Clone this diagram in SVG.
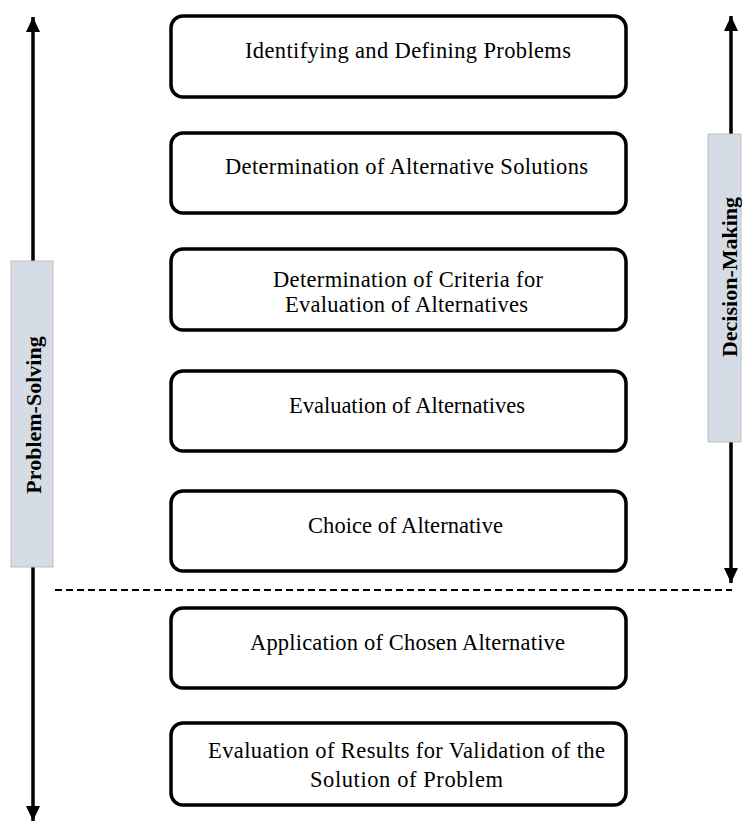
<svg xmlns="http://www.w3.org/2000/svg" width="742" height="822" viewBox="0 0 742 822">
<style>
.box{fill:#fff;stroke:#000;stroke-width:3.5}
.side{fill:#d6dce5;stroke:#bfbfbf;stroke-width:1}
.t{font-family:"Liberation Serif","Times New Roman",serif;font-size:22.5px;fill:#000;text-anchor:middle}
.v{font-family:"Liberation Serif","Times New Roman",serif;font-size:22px;font-weight:bold;fill:#000;text-anchor:middle}
.ln{stroke:#000;stroke-width:3.5;fill:none}
.dash{stroke:#000;stroke-width:2;stroke-dasharray:7 4;fill:none}
</style>
<defs>
<marker id="ah" markerUnits="userSpaceOnUse" markerWidth="16" markerHeight="15" refX="15" refY="7" orient="auto-start-reverse" viewBox="0 0 16 14">
<path d="M0,0 L15,7 L0,14 z" fill="#000"/>
</marker>
</defs>
<rect width="742" height="822" fill="#fff"/>
<g id="connectors">
<line class="ln" x1="33" y1="17" x2="33" y2="821" marker-start="url(#ah)" marker-end="url(#ah)"/>
<line class="ln" x1="731" y1="16" x2="731" y2="583" marker-start="url(#ah)" marker-end="url(#ah)"/>
<line class="dash" x1="55" y1="590" x2="732" y2="590"/>
</g>
<g id="problem-solving">
<rect class="side" x="11" y="261" width="42" height="306"/>
<text class="v" transform="translate(41,415) rotate(-90)">Problem-Solving</text>
</g>
<g id="decision-making">
<rect class="side" x="708" y="134" width="33" height="308"/>
<text class="v" transform="translate(736.5,277) rotate(-90)">Decision-Making</text>
</g>
<g id="n1">
<rect class="box" x="171" y="16" width="455" height="81" rx="12"/>
<text class="t" x="408" y="58" textLength="326" lengthAdjust="spacing">Identifying and Defining Problems</text>
</g>
<g id="n2">
<rect class="box" x="171" y="133" width="455" height="80" rx="12"/>
<text class="t" x="406.5" y="174" textLength="363" lengthAdjust="spacing">Determination of Alternative Solutions</text>
</g>
<g id="n3">
<rect class="box" x="171" y="249" width="455" height="81" rx="12"/>
<text class="t" x="408" y="287" textLength="270" lengthAdjust="spacing">Determination of Criteria  for</text>
<text class="t" x="406.5" y="312" textLength="243" lengthAdjust="spacing">Evaluation of Alternatives</text>
</g>
<g id="n4">
<rect class="box" x="171" y="371" width="455" height="80" rx="12"/>
<text class="t" x="407" y="413">Evaluation of Alternatives</text>
</g>
<g id="n5">
<rect class="box" x="171" y="491" width="455" height="80" rx="12"/>
<text class="t" x="405.5" y="533" textLength="195" lengthAdjust="spacing">Choice of Alternative</text>
</g>
<g id="n6">
<rect class="box" x="171" y="608" width="455" height="80" rx="12"/>
<text class="t" x="407.5" y="650" textLength="315" lengthAdjust="spacing">Application of Chosen Alternative</text>
</g>
<g id="n7">
<rect class="box" x="171" y="723" width="455" height="82" rx="12"/>
<text class="t" x="406.5" y="758" textLength="397" lengthAdjust="spacing">Evaluation of Results for Validation of the</text>
<text class="t" x="406.5" y="787" textLength="193" lengthAdjust="spacing">Solution  of Problem</text>
</g>
</svg>
